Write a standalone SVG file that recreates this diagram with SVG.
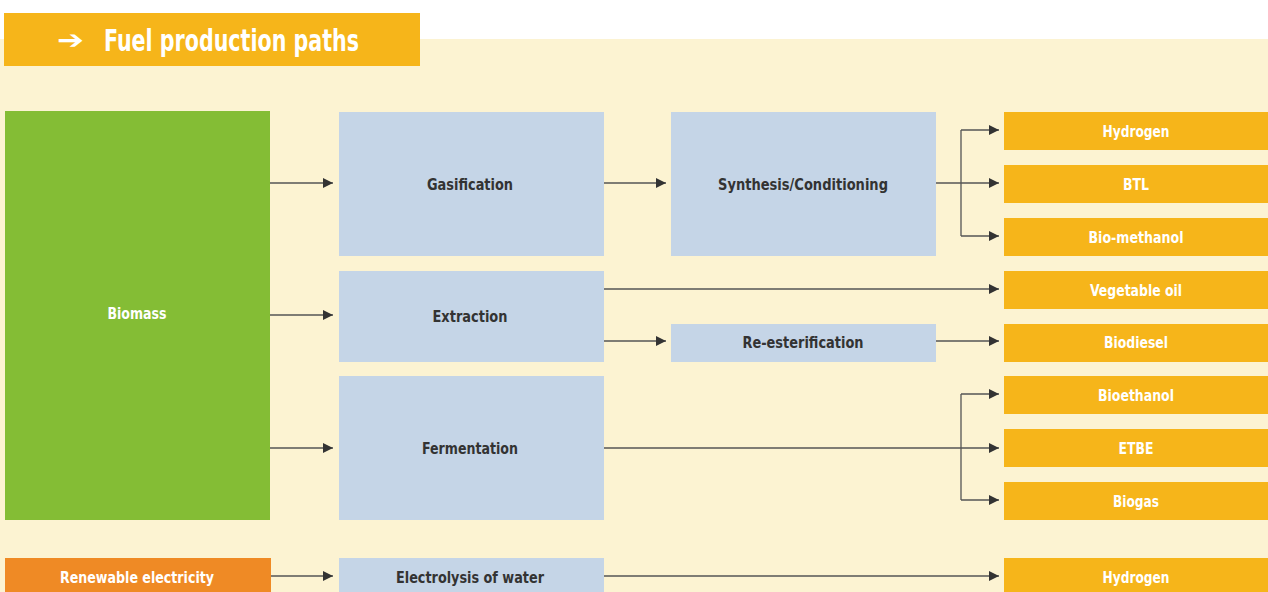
<svg xmlns="http://www.w3.org/2000/svg" width="1268" height="592" viewBox="0 0 1268 592">
<defs>
<marker id="ah" viewBox="0 0 10 10" refX="10" refY="5" markerWidth="10" markerHeight="10" markerUnits="userSpaceOnUse" orient="auto">
<path d="M0,0 L10,5 L0,10 z" fill="#333"/>
</marker>
<style>
.lbl{font-family:"DejaVu Sans Condensed","DejaVu Sans",sans-serif;font-weight:bold;font-size:16.5px;text-anchor:middle;dominant-baseline:central}
.dark{fill:#333}
.light{fill:#fff}
.proc{fill:#C5D5E7}
.out{fill:#F6B51A}
.con{fill:none;stroke:#555;stroke-width:1.3}
.arr{marker-end:url(#ah)}
</style>
</defs>
<rect x="0" y="0" width="1268" height="592" fill="#fff"/>
<rect x="0" y="39" width="1268" height="553" fill="#FCF3D2"/>
<g id="title">
<rect x="4" y="13" width="416" height="53" fill="#F6B51A"/>
<text x="57" y="40" textLength="27" lengthAdjust="spacingAndGlyphs" style="font-family:'DejaVu Sans',sans-serif;font-weight:bold;font-size:26px;fill:#fff;dominant-baseline:central">➔</text>
<text x="104" y="40" textLength="255" lengthAdjust="spacingAndGlyphs" style="font-family:'DejaVu Sans Condensed','DejaVu Sans',sans-serif;font-weight:bold;font-size:30px;fill:#fff;dominant-baseline:central">Fuel production paths</text>
</g>
<g id="connectors">
<path class="con arr" d="M270,183 H333"/>
<path class="con arr" d="M270,315 H333"/>
<path class="con arr" d="M270,448 H333"/>
<path class="con arr" d="M604,183 H666"/>
<path class="con" d="M936,183 H961 M961,130 V236"/>
<path class="con arr" d="M961,130 H999"/>
<path class="con arr" d="M961,183 H999"/>
<path class="con arr" d="M961,236 H999"/>
<path class="con arr" d="M604,289 H999"/>
<path class="con arr" d="M604,341 H666"/>
<path class="con arr" d="M936,341 H999"/>
<path class="con" d="M604,448 H961 M961,394 V500"/>
<path class="con arr" d="M961,394 H999"/>
<path class="con arr" d="M961,448 H999"/>
<path class="con arr" d="M961,500 H999"/>
<path class="con arr" d="M271,576 H333"/>
<path class="con arr" d="M604,576 H999"/>
</g>
<g id="biomass"><rect x="5" y="111" width="265" height="409" fill="#84BD35"/><text class="lbl light" x="137" y="313" textLength="59" lengthAdjust="spacingAndGlyphs">Biomass</text></g>
<g id="renewable"><rect x="5" y="558" width="266" height="34" fill="#EF8A25"/><text class="lbl light" x="137" y="577" textLength="154" lengthAdjust="spacingAndGlyphs">Renewable electricity</text></g>
<g id="gasification"><rect class="proc" x="339" y="112" width="265" height="144"/><text class="lbl dark" x="470" y="184" textLength="86" lengthAdjust="spacingAndGlyphs">Gasification</text></g>
<g id="synthesis"><rect class="proc" x="671" y="112" width="265" height="144"/><text class="lbl dark" x="803" y="184" textLength="170" lengthAdjust="spacingAndGlyphs">Synthesis/Conditioning</text></g>
<g id="extraction"><rect class="proc" x="339" y="271" width="265" height="91"/><text class="lbl dark" x="470" y="316" textLength="75" lengthAdjust="spacingAndGlyphs">Extraction</text></g>
<g id="reester"><rect class="proc" x="671" y="324" width="265" height="38"/><text class="lbl dark" x="803" y="342" textLength="121" lengthAdjust="spacingAndGlyphs">Re-esterification</text></g>
<g id="fermentation"><rect class="proc" x="339" y="376" width="265" height="144"/><text class="lbl dark" x="470" y="448" textLength="96" lengthAdjust="spacingAndGlyphs">Fermentation</text></g>
<g id="electrolysis"><rect class="proc" x="339" y="558" width="265" height="34"/><text class="lbl dark" x="470" y="577" textLength="148" lengthAdjust="spacingAndGlyphs">Electrolysis of water</text></g>
<g id="hydrogen1"><rect class="out" x="1004" y="112" width="264" height="38"/><text class="lbl light" x="1136" y="131" textLength="67" lengthAdjust="spacingAndGlyphs">Hydrogen</text></g>
<g id="btl"><rect class="out" x="1004" y="165" width="264" height="38"/><text class="lbl light" x="1136" y="184" textLength="26" lengthAdjust="spacingAndGlyphs">BTL</text></g>
<g id="biomethanol"><rect class="out" x="1004" y="218" width="264" height="38"/><text class="lbl light" x="1136" y="237" textLength="95" lengthAdjust="spacingAndGlyphs">Bio-methanol</text></g>
<g id="vegoil"><rect class="out" x="1004" y="271" width="264" height="38"/><text class="lbl light" x="1136" y="290" textLength="92" lengthAdjust="spacingAndGlyphs">Vegetable oil</text></g>
<g id="biodiesel"><rect class="out" x="1004" y="324" width="264" height="38"/><text class="lbl light" x="1136" y="342" textLength="64" lengthAdjust="spacingAndGlyphs">Biodiesel</text></g>
<g id="bioethanol"><rect class="out" x="1004" y="376" width="264" height="38"/><text class="lbl light" x="1136" y="395" textLength="76" lengthAdjust="spacingAndGlyphs">Bioethanol</text></g>
<g id="etbe"><rect class="out" x="1004" y="429" width="264" height="38"/><text class="lbl light" x="1136" y="448" textLength="35" lengthAdjust="spacingAndGlyphs">ETBE</text></g>
<g id="biogas"><rect class="out" x="1004" y="482" width="264" height="38"/><text class="lbl light" x="1136" y="501" textLength="46" lengthAdjust="spacingAndGlyphs">Biogas</text></g>
<g id="hydrogen2"><rect class="out" x="1004" y="558" width="264" height="34"/><text class="lbl light" x="1136" y="577" textLength="67" lengthAdjust="spacingAndGlyphs">Hydrogen</text></g>
</svg>
